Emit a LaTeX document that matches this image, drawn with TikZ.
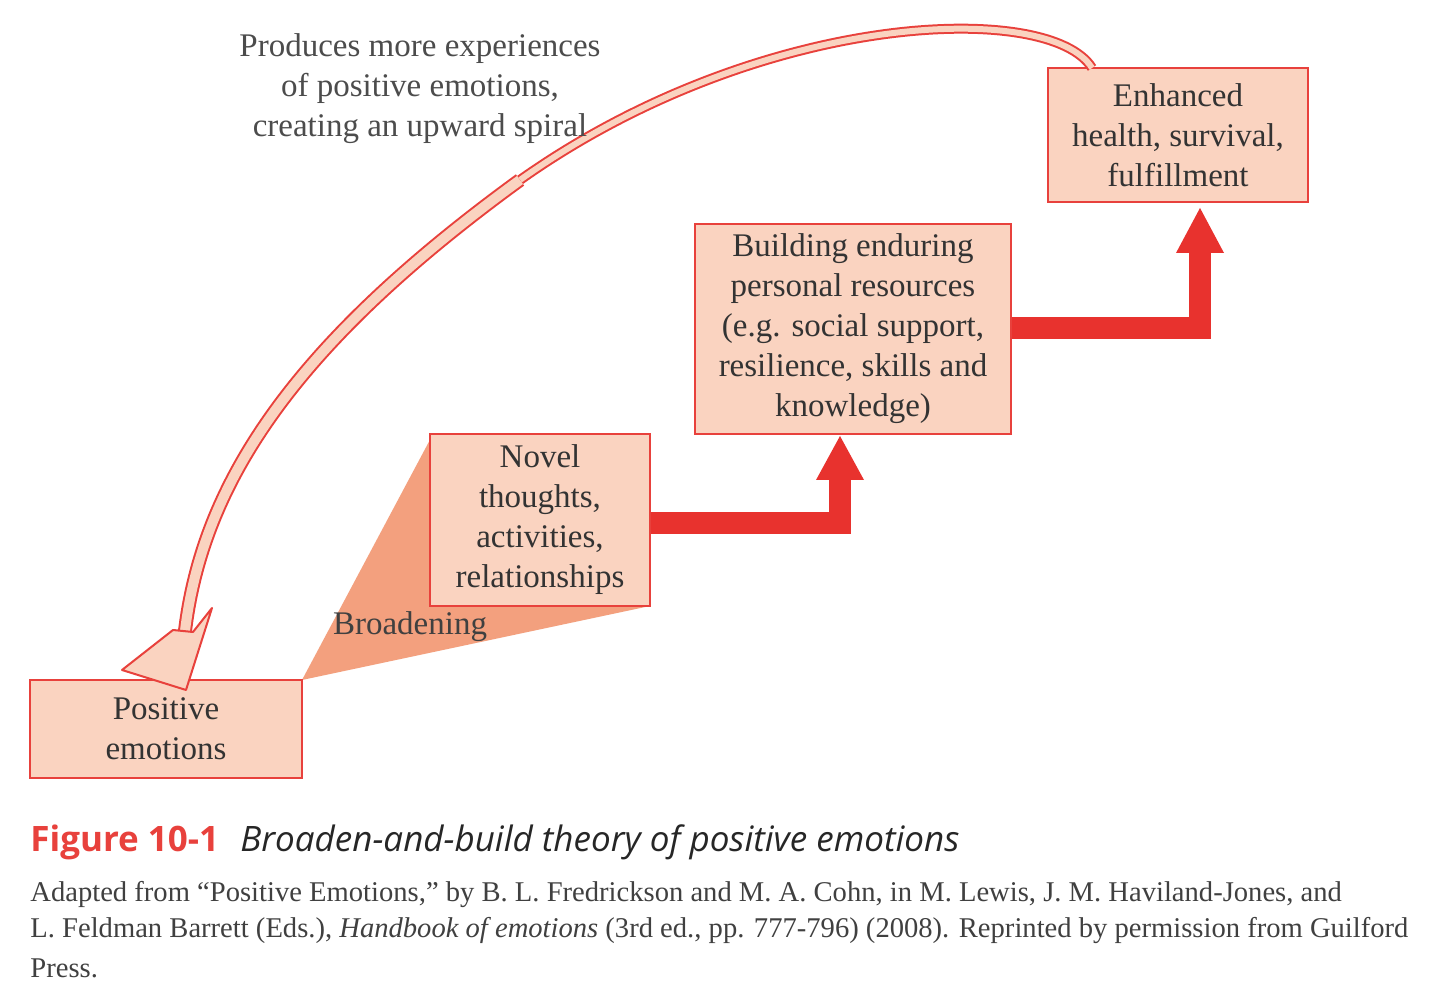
\documentclass[tikz,border=0pt]{standalone}
\usepackage{fontspec}
\setmainfont{Liberation Serif}
\newfontfamily\capfont{Open Sans}
\begin{document}
\begin{tikzpicture}[x=0.5pt,y=-0.5pt,
  box/.style={draw=boxred,fill=boxfill,line width=1pt,inner sep=0pt,align=center,font=\fontsize{16.5}{20}\selectfont,text=black!80},
  bigarrow/.style={draw=arrred,line width=11pt}]
\definecolor{boxred}{HTML}{E8413C}
\definecolor{boxfill}{HTML}{FAD3C0}
\definecolor{arrred}{HTML}{E8322E}
\definecolor{wedge}{HTML}{F3A07E}
\useasboundingbox (0,0) rectangle (1440,1004);
\fill[white] (0,0) rectangle (1440,1004);
% wedge
\coordinate (w1) at (302,680);
\coordinate (w2) at (432,436);
\coordinate (w3) at (650,606);
\fill[wedge] (w1) -- (w2) -- (w3) -- cycle;
% boxes
\node[box,minimum width=136pt,minimum height=49pt] (pos) at (166,729) {Positive\\emotions};
\node[box,minimum width=110pt,minimum height=86pt] (nov) at (540,520) {Novel\\thoughts,\\activities,\\relationships};
\node[box,minimum width=158pt,minimum height=105pt] (bld) at (853,329) {Building enduring\\personal resources\\(e.g. social support,\\resilience, skills and\\knowledge)};
\node[box,minimum width=130pt,minimum height=67pt] (enh) at (1178,135) {Enhanced\\health, survival,\\fulfillment};
\node[font=\fontsize{16.5}{20}\selectfont,text=black!75] (brd) at (410,627) {Broadening};
% thick arrows
\coordinate (c1) at (840,523);
\coordinate (c2) at (1200,328);
\draw[bigarrow] (nov.east |- c1) -- (c1) -- (840,475);
\fill[arrred] (816,480) -- (840,436) -- (864,480) -- cycle;
\draw[bigarrow] (bld.east |- c2) -- (c2) -- (1200,250);
\fill[arrred] (1176,253) -- (1200,208) -- (1224,253) -- cycle;
% curved hollow arrow
\coordinate (s0) at (1092,68);
\coordinate (s1) at (520,180);
\coordinate (s2) at (184,640);
\draw[boxred,line width=1pt,double=boxfill,double distance=3pt]
  (s0) .. controls (1050,0) and (760,10) .. (s1);
\draw[boxred,line width=1pt,double=boxfill,double distance=5pt]
  (s1) .. controls (300,340) and (200,480) .. (s2);
\draw[boxred,line width=1pt,fill=boxfill,line join=round] (122,670) -- (186,690) -- (212,608) -- (193,632) -- (173,630) -- cycle;
% label
\node[font=\fontsize{16.5}{20}\selectfont,text=black!70,align=center] (lab) at (420,89) {Produces more experiences\\of positive emotions,\\creating an upward spiral};
% caption
\node[anchor=west,inner sep=0pt,font=\capfont\fontsize{17.5}{20}\selectfont\bfseries,text=boxred] (fig) at (30,842) {Figure 10-1};
\node[anchor=west,inner sep=0pt,font=\capfont\fontsize{17.5}{20}\selectfont\itshape,text=black!85] (tit) at (240,842) {Broaden-and-build theory of positive emotions};
\node[anchor=west,inner sep=0pt,font=\fontsize{14.3}{18}\selectfont,text=black!75] (l1) at (30,895) {Adapted from “Positive Emotions,” by B. L. Fredrickson and M. A. Cohn, in M. Lewis, J. M. Haviland-Jones, and};
\node[anchor=west,inner sep=0pt,font=\fontsize{14.3}{18}\selectfont,text=black!75] (l2) at (30,931) {L. Feldman Barrett (Eds.), \textit{Handbook of emotions} (3rd ed., pp. 777-796) (2008). Reprinted by permission from Guilford};
\node[anchor=west,inner sep=0pt,font=\fontsize{14.3}{18}\selectfont,text=black!75] (l3) at (30,968) {Press.};
\end{tikzpicture}
\end{document}
